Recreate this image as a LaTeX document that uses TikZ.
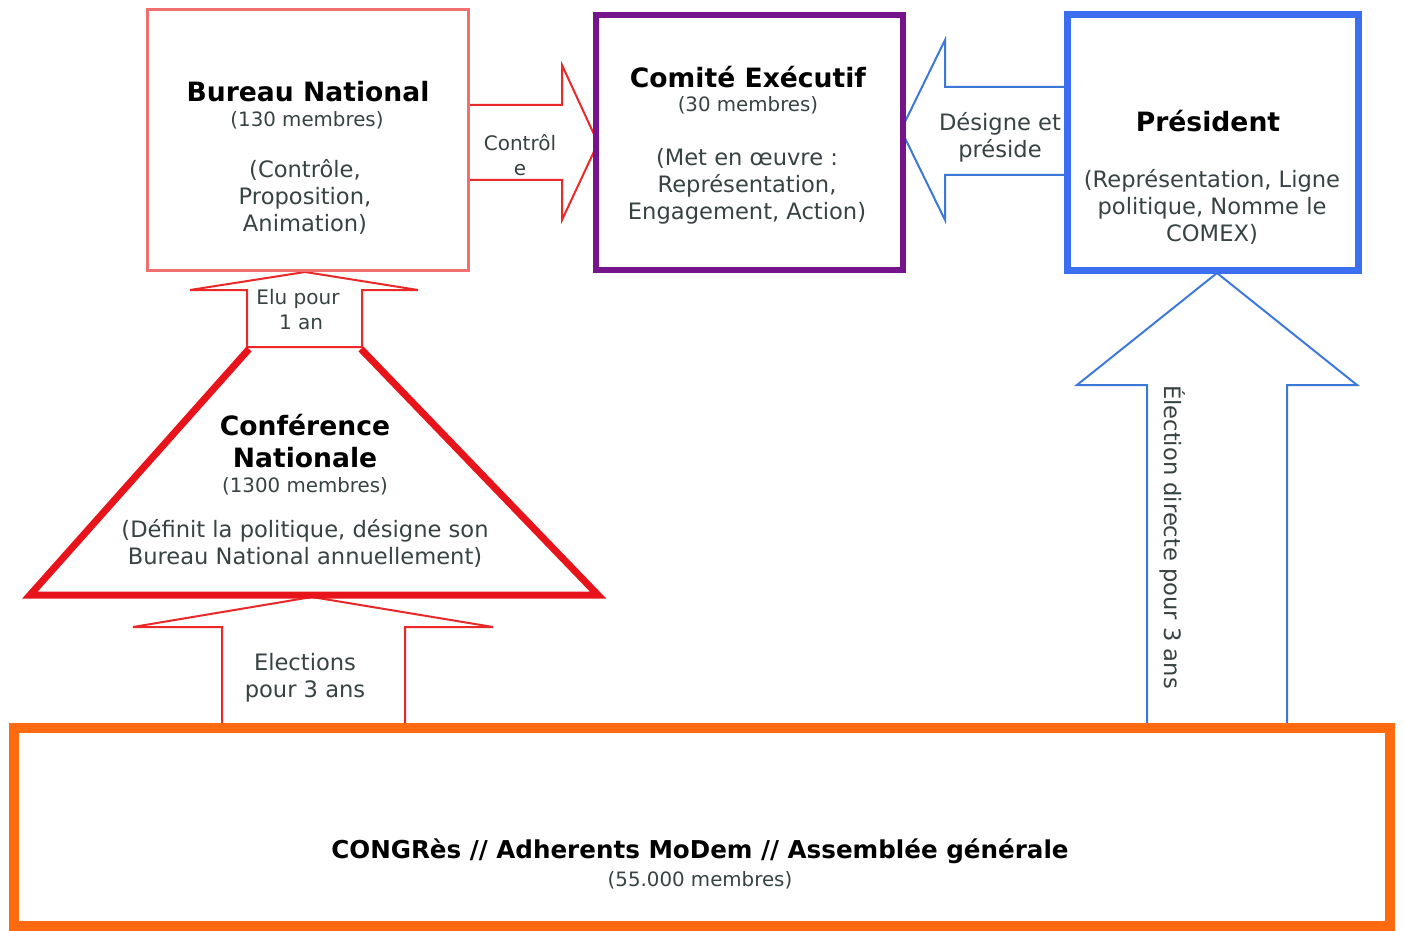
\documentclass[tikz,border=0pt]{standalone}
\usepackage{fontspec}
\setmainfont{DejaVu Sans}
\definecolor{bnred}{RGB}{240,112,112}
\definecolor{arred}{RGB}{235,40,40}
\definecolor{trired}{RGB}{232,20,28}
\definecolor{comvio}{RGB}{118,20,140}
\definecolor{presblue}{RGB}{60,110,240}
\definecolor{arblue}{RGB}{60,120,216}
\definecolor{congor}{RGB}{255,106,16}
\definecolor{txtgray}{RGB}{55,66,66}
\tikzset{
  title/.style={font=\fontsize{13.3}{16}\selectfont\bfseries, text=black, inner sep=0pt},
  small/.style={font=\fontsize{9.9}{12}\selectfont, text=txtgray, inner sep=0pt},
  body/.style={font=\fontsize{11.3}{13.5}\selectfont, text=txtgray, align=center, inner sep=0pt},
  redarrow/.style={draw=arred, line width=1pt, fill=white, line join=miter},
  bluearrow/.style={draw=arblue, line width=1pt, fill=white, line join=miter}
}
\begin{document}
\begin{tikzpicture}[x=0.5pt,y=-0.5pt]
\useasboundingbox (0,0) rectangle (1404,931);
% Arrows first
% Bureau -> Comite
\draw[redarrow] (468,105) -- (562,105) -- (562,65) -- (598,143) -- (562,220) -- (562,180) -- (468,180);
% President -> Comite
\draw[bluearrow] (1067,87) -- (945,87) -- (945,40) -- (901,130) -- (945,220) -- (945,175) -- (1067,175);
% Elu pour arrow
\draw[redarrow] (247,347) -- (247,290) -- (190,290) -- (305,272) -- (418,290) -- (362,290) -- (362,347) -- cycle;
% Elections arrow
\draw[redarrow] (222,724) -- (222,627) -- (133,627) -- (312,597) -- (493,627) -- (405,627) -- (405,724);
% President arrow
\draw[bluearrow] (1147,724) -- (1147,385) -- (1077,385) -- (1217,273) -- (1357,385) -- (1287,385) -- (1287,724);
% Boxes
\draw[draw=bnred, line width=1.5pt] (147,10) rectangle (468,270);
\draw[draw=comvio, line width=3pt] (596,15) rectangle (903,270);
\draw[draw=presblue, line width=3.5pt] (1067,15) rectangle (1358,270);
% Conference trapezoid
\draw[draw=trired, line width=3.5pt, line join=miter] (249,349) -- (30,595) -- (598,595) -- (361,349);
% Congres box
\draw[draw=congor, line width=5pt] (14,728) rectangle (1390,926);

% Texts
\node[title] (bn) at (308,92) {Bureau National};
\node[small] (bnm) at (307,120) {(130 membres)};
\node[body] (bnr) at (305,197) {(Contrôle,\\Proposition,\\Animation)};

\node[title] (ce) at (748,77) {Comité Exécutif};
\node[small] (cem) at (748,105) {(30 membres)};
\node[body] (cer) at (747,186) {(Met en œuvre :\\Représentation,\\Engagement, Action)};

\node[title] (pr) at (1208,121) {Président};
\node[body] (prr) at (1212,207) {(Représentation, Ligne\\politique, Nomme le\\COMEX)};

\node[small, align=center, font=\fontsize{10}{12.5}\selectfont] (ctl) at (520,155) {Contrôl\\e};
\node[body] (dp) at (1000,137) {Désigne et\\préside};
\node[small, align=center, font=\fontsize{10}{12.5}\selectfont] (elu) at (298,310) {Elu pour\\\ 1 an};

\node[title, align=center, font=\fontsize{13.3}{16}\selectfont\bfseries] (cn) at (305,441) {Conférence\\Nationale};
\node[small] (cnm) at (305,486) {(1300 membres)};
\node[body] (cnr) at (305,543) {(Définit la politique, désigne son\\Bureau National annuellement)};

\node[body] (el) at (305,678) {Elections\\pour 3 ans};
\node[body, rotate=-90] (ed) at (1173,537) {Élection directe pour 3 ans};

\node[title, font=\fontsize{12.3}{14}\selectfont\bfseries] (cg) at (700,851) {CONGRès // Adherents MoDem // Assemblée générale};
\node[small] (cgm) at (700,880) {(55.000 membres)};
\end{tikzpicture}
\end{document}
